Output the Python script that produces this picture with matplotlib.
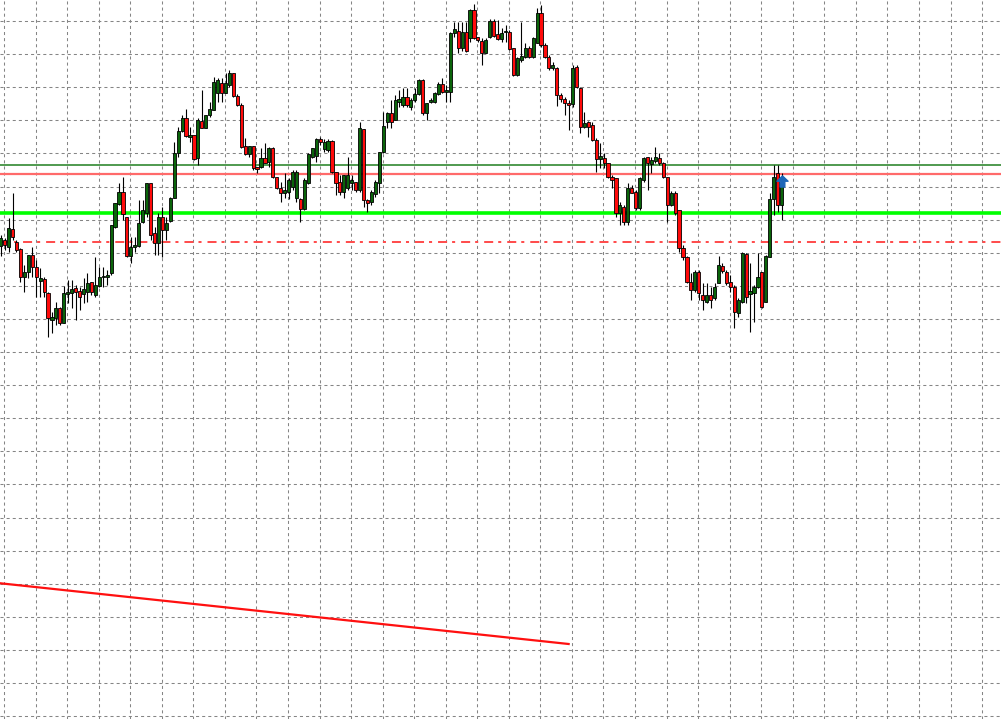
import matplotlib
matplotlib.use('Agg')
import matplotlib.pyplot as plt
from matplotlib.path import Path
import numpy as np

plt.rcParams['lines.scale_dashes'] = False

# OHLC (price in points, one candle per bar)
opens = [473, 479, 472, 490, 477, 470, 442, 447, 464, 452,
         438, 440, 426, 399, 401, 411, 396, 425, 426, 431,
         428, 425, 427, 437, 424, 433, 442, 442, 446, 492,
         515, 527, 502, 463, 472, 473, 497, 506, 536, 486,
         476, 502, 489, 498, 521, 566, 588, 601, 582, 584,
         561, 598, 591, 604, 609, 626, 636, 626, 634, 646,
         623, 614, 573, 565, 573, 552, 552, 561, 557, 571,
         542, 531, 526, 527, 532, 521, 520, 510, 536, 562,
         563, 580, 570, 569, 578, 547, 537, 527, 531, 536,
         537, 529, 590, 519, 517, 525, 536, 567, 597, 606,
         599, 617, 614, 622, 612, 619, 625, 639, 606, 617,
         617, 625, 635, 627, 627, 686, 688, 671, 687, 681,
         709, 682, 678, 666, 682, 698, 685, 680, 687, 687,
         671, 644, 659, 662, 671, 662, 676, 706, 674, 662,
         651, 651, 624, 620, 616, 615, 652, 631, 592, 597,
         594, 579, 560, 561, 556, 542, 541, 506, 512, 497,
         531, 527, 511, 539, 562, 555, 558, 561, 556, 542,
         514, 526, 509, 471, 462, 437, 429, 447, 424, 417,
         424, 421, 436, 453, 447, 437, 432, 406, 417, 465,
         425, 426, 432, 447, 417, 462, 520, 546, 514]
highs = [484, 481, 501, 526, 479, 471, 454, 464, 472, 459,
         451, 442, 427, 407, 417, 412, 433, 439, 439, 434,
         432, 441, 446, 437, 462, 452, 452, 449, 494, 516,
         536, 542, 502, 482, 482, 519, 519, 536, 536, 492,
         506, 512, 502, 522, 577, 592, 604, 610, 592, 584,
         601, 629, 604, 617, 642, 641, 641, 646, 649, 646,
         625, 616, 581, 573, 573, 552, 571, 576, 572, 572,
         542, 537, 546, 541, 549, 549, 521, 541, 566, 571,
         581, 582, 580, 580, 579, 547, 544, 544, 562, 544,
         537, 597, 590, 520, 529, 539, 567, 607, 607, 619,
         624, 629, 631, 631, 621, 631, 640, 640, 616, 621,
         627, 637, 641, 634, 687, 697, 697, 697, 697, 710,
         715, 682, 681, 681, 700, 700, 699, 691, 694, 689,
         671, 662, 697, 676, 673, 682, 711, 714, 676, 664,
         657, 652, 626, 622, 619, 654, 654, 632, 607, 598,
         597, 581, 576, 566, 556, 544, 541, 517, 514, 536,
         534, 529, 542, 562, 562, 562, 572, 566, 557, 542,
         528, 528, 509, 474, 463, 446, 449, 449, 436, 436,
         432, 436, 463, 456, 449, 444, 434, 421, 467, 466,
         456, 434, 466, 447, 464, 526, 554, 554, 546]
lows = [463, 469, 467, 479, 467, 437, 427, 441, 442, 422,
        422, 422, 382, 386, 394, 394, 396, 416, 411, 399,
        409, 416, 417, 424, 422, 432, 432, 434, 444, 491,
        514, 499, 462, 456, 467, 472, 496, 502, 479, 464,
        464, 462, 479, 497, 521, 562, 587, 582, 577, 559,
        554, 591, 591, 602, 609, 617, 617, 626, 632, 622,
        613, 571, 564, 562, 549, 546, 551, 556, 552, 541,
        530, 517, 521, 520, 529, 517, 497, 509, 535, 561,
        557, 574, 567, 567, 546, 524, 524, 521, 529, 529,
        527, 527, 512, 507, 514, 522, 526, 566, 591, 591,
        599, 612, 612, 612, 609, 617, 624, 604, 599, 616,
        616, 624, 626, 617, 617, 682, 666, 668, 667, 677,
        680, 677, 654, 666, 681, 682, 679, 677, 677, 669,
        643, 643, 657, 661, 661, 661, 676, 672, 661, 649,
        649, 613, 617, 604, 589, 612, 631, 586, 591, 582,
        578, 547, 551, 551, 541, 531, 502, 494, 494, 494,
        526, 509, 509, 537, 529, 546, 556, 554, 541, 497,
        513, 504, 467, 459, 436, 419, 427, 419, 409, 416,
        411, 419, 436, 446, 434, 427, 391, 402, 416, 416,
        387, 397, 431, 411, 417, 462, 504, 507, 499]
closes = [481, 474, 491, 482, 469, 442, 447, 464, 452, 442,
          441, 427, 401, 402, 411, 396, 426, 427, 430, 427,
          422, 430, 436, 427, 434, 442, 443, 444, 494, 516,
          527, 505, 463, 472, 474, 496, 509, 536, 484, 476,
          502, 489, 496, 521, 566, 588, 601, 583, 584, 560,
          599, 591, 604, 610, 637, 639, 626, 636, 646, 623,
          614, 572, 565, 573, 551, 550, 561, 556, 571, 542,
          531, 526, 529, 539, 547, 547, 510, 539, 565, 571,
          580, 577, 577, 578, 547, 536, 527, 544, 544, 539,
          529, 591, 519, 516, 527, 537, 567, 593, 606, 597,
          619, 620, 622, 614, 619, 625, 639, 606, 616, 619,
          626, 635, 627, 629, 686, 690, 671, 687, 668, 709,
          681, 679, 666, 679, 698, 683, 680, 686, 688, 670,
          644, 661, 663, 671, 662, 681, 706, 674, 662, 651,
          654, 624, 620, 616, 614, 651, 632, 592, 596, 592,
          579, 560, 563, 556, 542, 539, 506, 514, 497, 531,
          526, 511, 541, 561, 556, 559, 562, 556, 542, 514,
          526, 506, 471, 462, 437, 429, 447, 426, 419, 424,
          419, 432, 454, 448, 436, 432, 407, 419, 466, 422,
          428, 432, 442, 412, 463, 520, 542, 514, 536]

# horizontal levels
level_dark_green = 554.3
level_red = 545.0
level_green = 505.7
level_red_dashdot = 477.3

# trend line (bar index, price)
trend_idx = [-1, 144]
trend_val = [136.1, 75]

# buy arrow
arrow_idx = 198
arrow_val = 538

o = np.array(opens)
h = np.array(highs)
l = np.array(lows)
c = np.array(closes)
x = np.arange(len(o))
up = c >= o

fig = plt.figure(figsize=(10.01, 7.19), dpi=100)
ax = fig.add_axes([0, 0, 1, 1])
ax.set_facecolor('white')

# grid
ax.set_xticks(np.arange(0.84, 254, 8))
ax.set_yticks(698 - 33.1 * np.arange(0, 22))
ax.grid(True, color='#858585', linewidth=0.75, dashes=(2.2, 2.2))
ax.tick_params(length=0, labelbottom=False, labelleft=False)
for s in ax.spines.values():
    s.set_visible(False)

# levels
ax.axhline(level_dark_green, color='#4f9a4f', linewidth=1.4, zorder=2)
ax.axhline(level_red, color='#ff6a6a', linewidth=1.6, zorder=2)
ax.axhline(level_green, color='#00ff00', linewidth=2.6, zorder=2)
ax.axhline(level_red_dashdot, color='#ff4a4a', linewidth=1.4,
           dashes=(6.5, 3.6, 2.2, 4.3), zorder=2)

# trend line
ax.plot(trend_idx, trend_val, color='#ff1010', linewidth=1.6, zorder=2)

# candles
ax.vlines(x, l, h, color='black', linewidth=0.8, zorder=3)
ax.bar(x, c - o, bottom=o, width=0.8,
       color=np.where(up, '#0a640a', '#ff0a0a'),
       edgecolor='black', linewidth=0.6, zorder=4)

# arrow marker
arrow = Path([(0, 1), (1, 0.05), (0.42, 0.05), (0.42, -1),
              (-0.42, -1), (-0.42, 0.05), (-1, 0.05), (0, 1)],
             [Path.MOVETO] + [Path.LINETO] * 6 + [Path.CLOSEPOLY])
ax.plot([arrow_idx], [arrow_val], marker=arrow, markersize=8,
        color='#1c66b8', zorder=5)

ax.set_xlim(-0.177, -0.177 + 1001 / 3.944)
ax.set_ylim(0, 719)

fig.savefig('out.png', dpi=100)
